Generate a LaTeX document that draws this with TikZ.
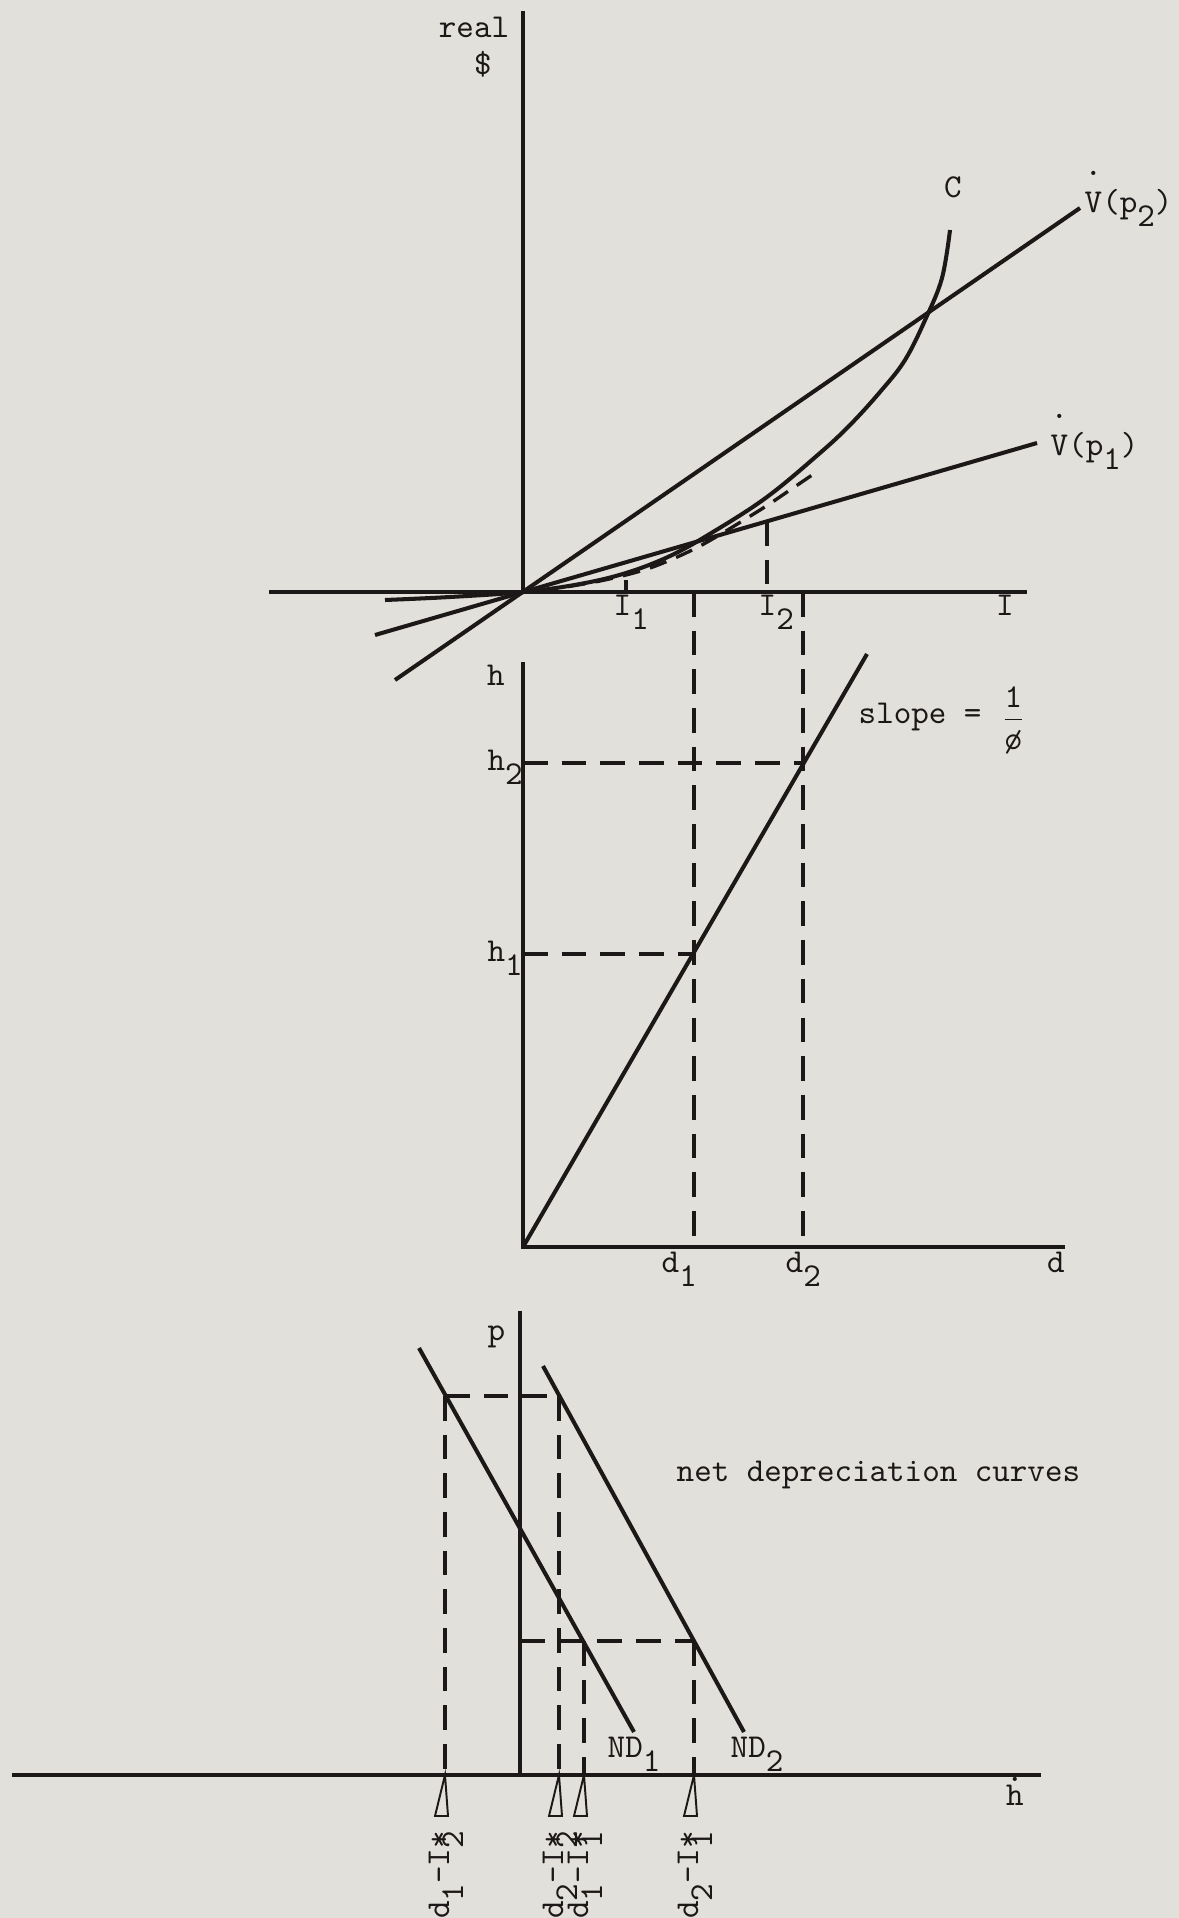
\documentclass[tikz,border=0pt]{standalone}
\usepackage{fontspec}
\usepackage{tikz}
\usetikzlibrary{positioning,calc}
\usepackage{xcolor}
\definecolor{paper}{RGB}{226,224,219}
\definecolor{ink}{RGB}{28,24,24}
\newcommand{\lw}[1]{\raisebox{-0.42em}{#1}}
\newcommand{\istar}[1]{I\rlap{*}\lw{#1}}
\newcommand{\dotted}[2]{\leavevmode\rlap{\raisebox{#1}{.}}#2}
\newcommand{\tw}{\fontsize{9.5}{11}\selectfont\ttfamily\addfontfeatures{FakeBold=2.5}}
\tikzset{
    axis/.style={ink, line width=1.15pt},
    curve/.style={ink, line width=1.15pt},
    guide/.style={ink, line width=0.95pt, dash pattern=on 7pt off 4pt},
    wedge/.style={ink, line width=0.55pt},
    tlabel/.style={font=\tw, text=ink, inner sep=0pt},
}

\begin{document}
\begin{tikzpicture}[x=0.01cm, y=-0.01cm]
    \fill[paper] (0,0) rectangle (1179,1918);
    \useasboundingbox (0,0) rectangle (1179,1918);

    % Top panel: cost curve C and the two revenue lines
    \coordinate (o1) at (523,592);
    \coordinate (ytop1) at (523,11);
    \coordinate (xl1) at (269,592);
    \coordinate (xr1) at (1027,592);
    \draw[axis] (ytop1) -- (o1);
    \draw[axis] (xl1) -- (xr1);
    \coordinate (v1a) at (375,635);
    \coordinate (v1b) at (1037,443);
    \coordinate (v2a) at (395,680);
    \coordinate (v2b) at (1080,208);
    \draw[curve] (v1a) -- (v1b);
    \draw[curve] (v2a) -- (v2b);
    \draw[curve] plot[smooth, tension=0.6] coordinates {(385,600) (450,597) (523,592) (580,584)
        (626,573) (670,556) (713,532) (767,497) (820,453) (850,425) (880,392) (905,360)
        (926,318) (942,278) (950,230)};
    \draw[guide, dash pattern=on 5pt off 3pt] plot[smooth] coordinates {(540,591) (600,581)
        (650,568) (700,546) (760,510) (790,490) (818,471)};
    \coordinate (i1) at (626,592);
    \coordinate (i1top) at (626,580);
    \draw[axis] (i1top) -- (i1);
    \coordinate (i2) at (767,592);
    \coordinate (i2top) at (767,521);
    \draw[guide] (i2top) -- (i2);
    \node[tlabel] (real) at (474,27) {real};
    \node[tlabel] (dollar) at (483,64) {\$};
    \node[tlabel] (lblC) at (953,187) {C};
    \node[tlabel, anchor=base west] (lblV2) at (1084,212) {\dotted{1.1em}{V}(p\lw{2})};
    \node[tlabel, anchor=base west] (lblV1) at (1050,455) {\dotted{1.1em}{V}(p\lw{1})};
    \node[tlabel, anchor=base west] (lblI1) at (613,615) {I\lw{1}};
    \node[tlabel, anchor=base west] (lblI2) at (758,615) {I\lw{2}};
    \node[tlabel, anchor=base] (lblI) at (1005,615) {I};

    % Middle panel: h against d
    \coordinate (o2) at (523,1247);
    \coordinate (ytop2) at (523,662);
    \coordinate (xr2) at (1065,1247);
    \draw[axis] (ytop2) -- (o2) -- (xr2);
    \coordinate (hend) at (867,654);
    \draw[curve] (o2) -- (hend);
    \coordinate (h1) at (523,954);
    \coordinate (p1) at (693,954);
    \coordinate (h2) at (523,763);
    \coordinate (p2) at (803,763);
    \draw[guide] (h1) -- (p1);
    \draw[guide] (h2) -- (p2);
    \coordinate (d1top) at (694,592);
    \coordinate (d1) at (694,1247);
    \coordinate (d2top) at (803,592);
    \coordinate (d2) at (803,1247);
    \draw[guide] (d1top) -- (d1);
    \draw[guide] (d2top) -- (d2);
    \node[tlabel, anchor=base] (lblh) at (496,685) {h};
    \node[tlabel, anchor=base west] (lblh2) at (487,770) {h\lw{2}};
    \node[tlabel, anchor=base west] (lblh1) at (487,961) {h\lw{1}};
    \node[tlabel, anchor=base west] (lbld1) at (661,1272) {d\lw{1}};
    \node[tlabel, anchor=base west] (lbld2) at (785,1272) {d\lw{2}};
    \node[tlabel, anchor=base] (lbld) at (1056,1272) {d};
    \node[tlabel, anchor=base west] (slope) at (858,723) {slope =};
    \node[tlabel, right=5pt of slope, yshift=-1pt] (frac) {$\displaystyle\frac{\mbox{\tw 1}}{\mbox{\tw\o}}$};

    % Bottom panel: net depreciation curves
    \coordinate (o3) at (520,1775);
    \coordinate (ytop3) at (520,1311);
    \coordinate (xl3) at (12,1775);
    \coordinate (xr3) at (1041,1775);
    \draw[axis] (ytop3) -- (o3);
    \draw[axis] (xl3) -- (xr3);
    \coordinate (nd1a) at (419,1348);
    \coordinate (nd1b) at (634,1732);
    \coordinate (nd2a) at (543,1366);
    \coordinate (nd2b) at (744,1732);
    \draw[curve] (nd1a) -- (nd1b);
    \draw[curve] (nd2a) -- (nd2b);
    \coordinate (q1) at (445,1396);
    \coordinate (q2) at (559,1396);
    \coordinate (q3) at (520,1641);
    \coordinate (q4) at (694,1641);
    \draw[guide] (q1) -- (q2);
    \draw[guide] (q3) -- (q4);
    \foreach \x/\ytop/\i/\lab in {445/1396/1/{d\lw{1}-\istar{2}}, 559/1396/2/{d\lw{2}-\istar{2}},
                                  584/1641/3/{d\lw{1}-\istar{1}}, 694/1641/4/{d\lw{2}-\istar{1}}} {
        \coordinate (g\i) at (\x,\ytop);
        \coordinate (a\i) at (\x,1775);
        \draw[guide] (g\i) -- (a\i);
        \draw[wedge] (a\i) -- ++(-10,41) -- ++(13,0) -- cycle;
        \node[tlabel, rotate=90] (lab\i) at (\x+1,1875) {\lab};
    }
    \node[tlabel, anchor=base west] (lblp) at (487,1340) {p};
    \node[tlabel, anchor=base west] (netdep) at (676,1481) {net depreciation curves};
    \node[tlabel, anchor=base west] (lblnd1) at (607,1757) {ND\lw{1}};
    \node[tlabel, anchor=base west] (lblnd2) at (730,1757) {ND\lw{2}};
    \node[tlabel, anchor=base] (lblhdot) at (1015,1805) {\dotted{0.7em}{h}};
\end{tikzpicture}
\end{document}
